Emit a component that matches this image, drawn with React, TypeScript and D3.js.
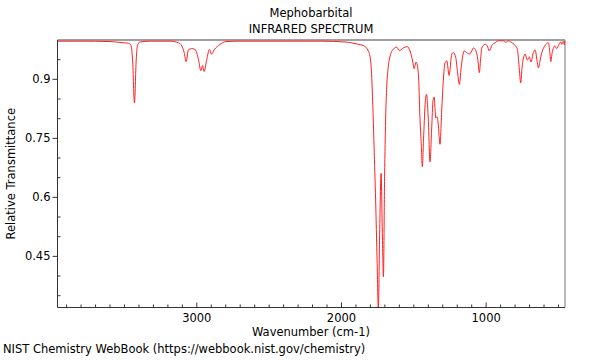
import React from "react";
import * as d3 from "d3";

const title = "Mephobarbital";
const subtitle = "INFRARED SPECTRUM";
const xLabel = "Wavenumber (cm-1)";
const yLabel = "Relative Transmittance";
const footer = "NIST Chemistry WebBook (https://webbook.nist.gov/chemistry)";

const xTicks = [3000, 2000, 1000];
const yTicks = [0.45, 0.6, 0.75, 0.9];
const yTickLabels = ["0.45", "0.6", "0.75", "0.9"];

const wavenumber = [
  3963, 3800, 3600, 3509, 3475, 3456, 3444, 3431, 3419, 3410, 3392, 3323, 3185,
  3127, 3104, 3088, 3074, 3058, 3035, 3012, 2989, 2972, 2960, 2950, 2931, 2913,
  2898, 2880, 2839, 2798, 2701, 2424, 2148, 1975, 1883, 1849, 1814, 1797, 1784,
  1775, 1764, 1754, 1745, 1737, 1726, 1718, 1710, 1702, 1695, 1687, 1676, 1664,
  1641, 1618, 1600, 1572, 1545, 1526, 1507, 1498, 1484, 1469, 1457, 1450, 1441,
  1433, 1422, 1412, 1400, 1388, 1377, 1367, 1360, 1348, 1339, 1332, 1319, 1307,
  1296, 1284, 1272, 1256, 1238, 1227, 1210, 1198, 1185, 1173, 1163, 1153, 1134,
  1116, 1100, 1088, 1070, 1058, 1047, 1039, 1030, 1008, 992, 978, 961, 938, 916,
  881, 862, 847, 830, 800, 784, 773, 761, 752, 742, 731, 715, 701, 690, 674, 662,
  646, 639, 627, 615, 593, 570, 560, 553, 544, 524, 512, 501, 484, 477, 466, 459,
  455,
];

const transmittance = [
  0.997, 0.997, 0.996, 0.993, 0.992, 0.987, 0.949, 0.84, 0.949, 0.987, 0.995, 0.997, 0.997,
  0.993, 0.985, 0.969, 0.945, 0.975, 0.978, 0.976, 0.951, 0.922, 0.935, 0.92, 0.951, 0.976,
  0.964, 0.975, 0.989, 0.996, 0.997, 0.997, 0.997, 0.995, 0.989, 0.986, 0.972, 0.942, 0.84,
  0.73, 0.593, 0.441, 0.312, 0.491, 0.661, 0.517, 0.398, 0.654, 0.797, 0.883, 0.934, 0.959,
  0.977, 0.982, 0.973, 0.98, 0.983, 0.972, 0.944, 0.927, 0.944, 0.917, 0.797, 0.746, 0.678,
  0.746, 0.835, 0.862, 0.799, 0.69, 0.771, 0.847, 0.855, 0.802, 0.805, 0.789, 0.735, 0.822,
  0.898, 0.942, 0.947, 0.91, 0.964, 0.968, 0.955, 0.919, 0.887, 0.929, 0.957, 0.972, 0.968,
  0.964, 0.972, 0.98, 0.972, 0.951, 0.917, 0.949, 0.98, 0.989, 0.985, 0.972, 0.986, 0.993, 0.998,
  0.998, 0.994, 0.998, 0.995, 0.986, 0.976, 0.936, 0.891, 0.929, 0.954, 0.964, 0.949, 0.957, 0.944, 0.968, 0.975,
  0.942, 0.929, 0.949, 0.968, 0.986, 0.993, 0.969, 0.945, 0.967, 0.985, 0.978, 0.986, 0.995, 0.989, 0.997, 0.988,
  0.998,
];

const W = 600;
const H = 360;
const left = 57.5;
const right = 565;
const top = 40;
const bottom = 307.5;
const fs = 11.5;

export default function App() {
  const x = d3.scaleLinear().domain([3963, 455]).range([left, right]);
  const y = d3.scaleLinear().domain([0.32, 1.0]).range([bottom, top]);
  const pts = wavenumber.map((w, i) => [w, transmittance[i]] as [number, number]);
  const line = d3
    .line<[number, number]>()
    .x((d) => x(d[0]))
    .y((d) => y(d[1]))
    .curve(d3.curveMonotoneX);
  const minorX = d3.range(3900, 455, -100).filter((v) => v % 1000 !== 0);
  const minorY = d3.range(0.35, 1.0, 0.05).filter(
    (v) => !yTicks.some((t) => Math.abs(t - v) < 1e-6)
  );
  const font = "DejaVu Sans, sans-serif";
  const axisColor = "#333";
  return (
    <svg
      width={W}
      height={H}
      style={{ position: "absolute", left: 0, top: 0 }}
      fontFamily={font}
    >
      <rect width={W} height={H} fill="#fff" />
      <defs>
        <clipPath id="plot">
          <rect x={left} y={top} width={right - left} height={bottom - top} />
        </clipPath>
      </defs>
      <text x={311} y={17} textAnchor="middle" fontSize={fs}>
        {title}
      </text>
      <text x={311} y={33} textAnchor="middle" fontSize={fs}>
        {subtitle}
      </text>
      <line x1={left} x2={right} y1={top} y2={top} stroke="#a0a0a0" strokeWidth={2} />
      <line x1={right} x2={right} y1={top} y2={bottom} stroke="#a0a0a0" strokeWidth={1.5} />
      <path
        d={line(pts) || ""}
        fill="none"
        stroke="#ff2020"
        strokeWidth={1}
        clipPath="url(#plot)"
      />
      <line x1={left} x2={left} y1={top} y2={bottom} stroke={axisColor} strokeWidth={1} />
      <line x1={left} x2={right} y1={bottom} y2={bottom} stroke={axisColor} strokeWidth={1} />
      {yTicks.map((t, i) => (
        <g key={"yt" + t}>
          <line x1={left - 5} x2={left} y1={y(t)} y2={y(t)} stroke={axisColor} />
          <text x={left - 7} y={y(t) + 4} textAnchor="end" fontSize={fs}>
            {yTickLabels[i]}
          </text>
        </g>
      ))}
      {minorY.map((t) => (
        <line key={"ym" + t} x1={left} x2={left + 3} y1={y(t)} y2={y(t)} stroke={axisColor} />
      ))}
      {xTicks.map((t) => (
        <g key={"xt" + t}>
          <line x1={x(t)} x2={x(t)} y1={bottom} y2={bottom - 5} stroke={axisColor} />
          <text x={x(t)} y={322} textAnchor="middle" fontSize={fs}>
            {t}
          </text>
        </g>
      ))}
      {minorX.map((t) => (
        <line key={"xm" + t} x1={x(t)} x2={x(t)} y1={bottom} y2={bottom - 3} stroke={axisColor} />
      ))}
      <text x={311} y={336} textAnchor="middle" fontSize={fs}>
        {xLabel}
      </text>
      <text
        transform={`translate(15,${(top + bottom) / 2}) rotate(-90)`}
        textAnchor="middle"
        fontSize={fs}
      >
        {yLabel}
      </text>
      <text x={3} y={353} fontSize={fs}>
        {footer}
      </text>
    </svg>
  );
}
